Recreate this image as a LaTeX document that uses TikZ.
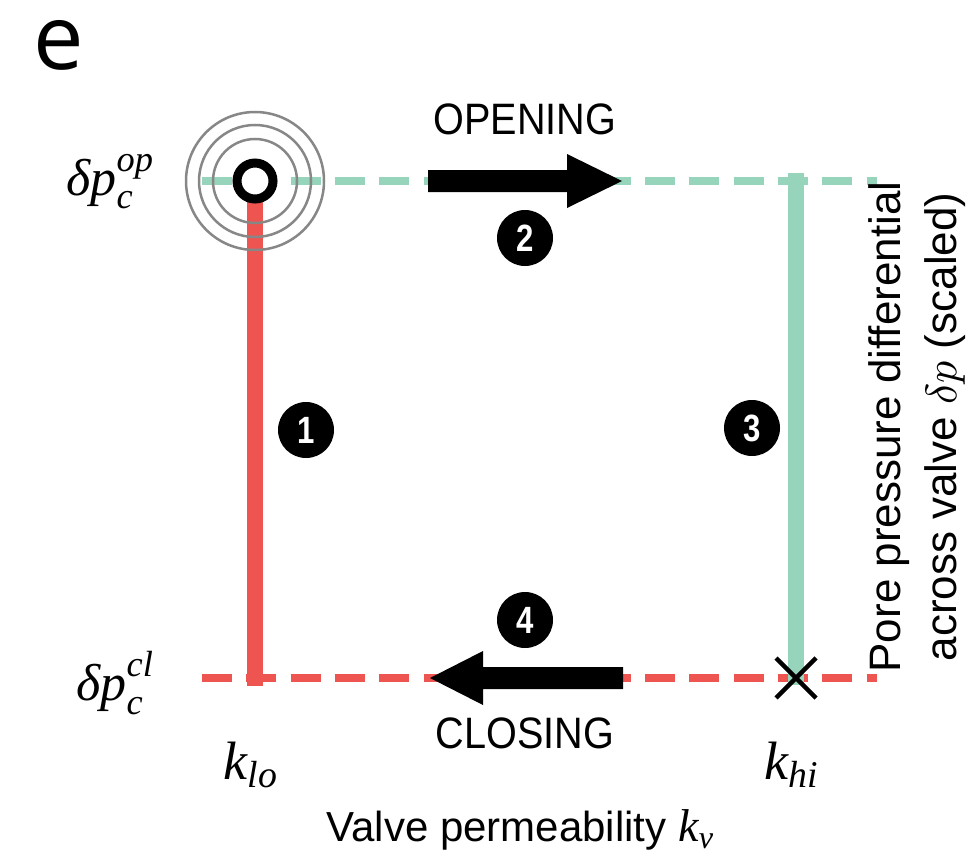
\documentclass[tikz,border=0pt]{standalone}
\usepackage{fontspec}
\setmainfont{Liberation Sans}
\newfontfamily\condfont[FakeStretch=0.9]{Liberation Sans}
\newfontfamily\numfont[FakeStretch=0.82]{Liberation Sans}
\newfontfamily\efont{Open Sans}
\newfontfamily\tms{Liberation Serif}
\definecolor{vgreen}{RGB}{150,212,187}
\definecolor{vred}{RGB}{238,85,80}
\definecolor{ringgray}{RGB}{135,135,135}
\newcommand{\tmi}[1]{\hbox{\tms\itshape #1}}
\newcommand{\tmis}[1]{\hbox{\tms\itshape\fontsize{7}{7}\selectfont #1}}
\newcommand{\labsubsup}[4]{\scalebox{#1}{\fontsize{10}{12}\selectfont$\tmi{#2}_{\tmis{#3}}^{\tmis{#4}}$}}
\newcommand{\labsub}[3]{\scalebox{#1}{\fontsize{10}{12}\selectfont$\tmi{#2}_{\tmis{#3}}$}}
\begin{document}
\begin{tikzpicture}[x=1pt,y=-1pt,
  dashline/.style={line width=8pt, dash pattern=on 30pt off 14.3pt},
  vline/.style={line width=16pt},
  badge/.style={circle, fill=black, minimum size=56pt, inner sep=0pt, text=white,
    font=\numfont\bfseries\fontsize{38}{38}\selectfont},
  ringline/.style={draw=ringgray, line width=2.5pt},
  plain/.style={inner sep=0pt, text=black},
  mathlbl/.style={inner sep=0pt},
  phase/.style={inner sep=0pt, font=\condfont\fontsize{44}{44}\selectfont}]
\useasboundingbox (0,0) rectangle (968,859);
% key points
\coordinate (tl) at (255,181);
\coordinate (tr) at (796,181);
\coordinate (bl) at (255,678);
\coordinate (br) at (796,678);
\coordinate (topL) at (202,181);
\coordinate (topR) at (877,181);
\coordinate (botL) at (202,678);
\coordinate (botR) at (877,678);
% dashed lines
\draw[dashline, vgreen] (topL) -- (topR);
\draw[dashline, vred] (botL) -- (botR);
% vertical lines
\draw[vline, vred] (255,181) -- (255,686);
\draw[vline, vgreen] (796,173) -- (796,685);
% rings
\draw[ringline] (tl) circle[radius=42];
\draw[ringline] (tl) circle[radius=56];
\draw[ringline] (tl) circle[radius=69];
\node[circle, draw=black, line width=9pt, fill=white, minimum size=36pt, inner sep=0pt] (valve) at (tl) {};
% X mark
\coordinate (xm) at (br);
\draw[line width=4.5pt] (xm) ++(-20,-20) -- ++(40,40);
\draw[line width=4.5pt] (xm) ++(20,-20) -- ++(-40,40);
% arrows
\coordinate (opS) at (428,181);
\coordinate (opT) at (622,181);
\fill[black] (opS) ++(0,-11) -- ++(139,0) -- ++(0,-16) -- (opT) -- ++(-55,27) -- ++(0,-16) -- ++(-139,0) -- cycle;
\coordinate (clS) at (623,678);
\coordinate (clT) at (430,678);
\fill[black] (clS) ++(0,-11) -- ++(-140,0) -- ++(0,-16) -- (clT) -- ++(53,27) -- ++(0,-16) -- ++(140,0) -- cycle;
% badges
\node[badge] (b1) at (306,430) {1};
\node[badge] (b2) at (525,238) {2};
\node[badge] (b3) at (752,428) {3};
\node[badge] (b4) at (525,620) {4};
% texts
\node[phase] (open) at (525,119) {OPENING};
\node[phase] (close) at (525,733) {CLOSING};
\node[plain, font=\efont\fontsize{90}{90}\selectfont] (panel) at (59,45) {e};
\node[mathlbl] (dop) at (111,182) {\labsubsup{5.2}{δp}{c}{op}};
\node[mathlbl] (dcl) at (116,683) {\labsubsup{5.2}{δp}{c}{cl}};
\node[mathlbl] (klo) at (252,765) {\labsub{5.4}{k}{lo}};
\node[mathlbl] (khi) at (793,765) {\labsub{5.4}{k}{hi}};
\node[plain, font=\fontsize{42}{42}\selectfont] (xlab) at (521,830) {Valve permeability \labsub{4.6}{k}{v}};
\node[plain, rotate=90, align=center, font=\fontsize{44}{56}\selectfont] (ylab) at (917,427)
  {Pore pressure differential\\across valve \scalebox{4.4}{\fontsize{10}{12}\selectfont$\delta p$} (scaled)};
\end{tikzpicture}
\end{document}
